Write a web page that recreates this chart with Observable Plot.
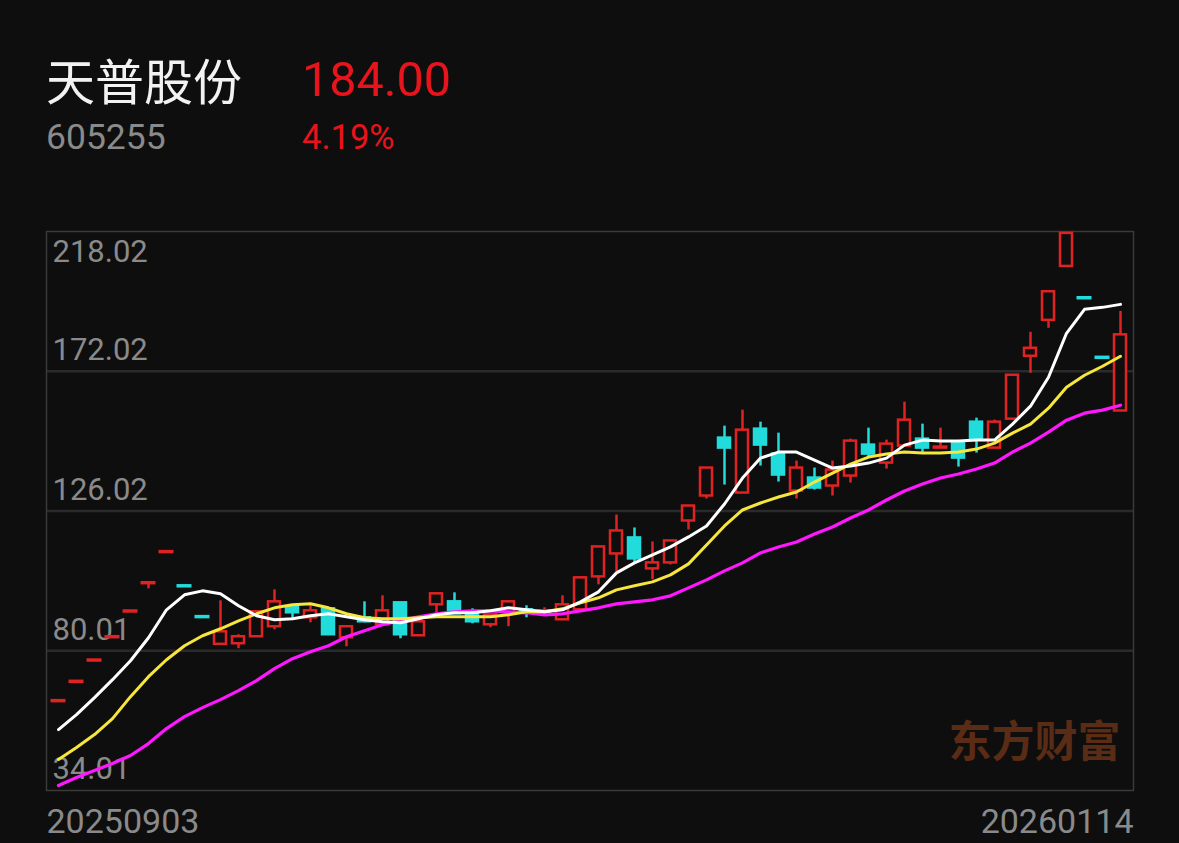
<!DOCTYPE html>
<html><head><meta charset="utf-8">
<script src="https://cdn.jsdelivr.net/npm/d3@7"></script>
<script src="https://cdn.jsdelivr.net/npm/@observablehq/plot@0.6"></script>
<style>
html,body{margin:0;padding:0;background:#0e0e0e;width:1179px;height:843px;overflow:hidden}
#root{position:relative;width:1179px;height:843px}
.t{position:absolute;white-space:nowrap;line-height:1;font-family:Roboto,"Noto Sans CJK SC",sans-serif}
#chart{position:absolute;left:0;top:0}
</style></head><body><div id="root">
<div class="t" id="name" style="left:46px;top:54px;font-size:49px;color:#f2f2f2;font-family:'Noto Sans CJK SC',sans-serif">天普股份</div>
<div class="t" id="price" style="left:302px;top:56px;font-size:48.5px;color:#e8141c">184.00</div>
<div class="t" id="code" style="left:46px;top:120px;font-size:35.5px;color:#8a8a8a">605255</div>
<div class="t" id="pct" style="left:302px;top:120px;font-size:34.5px;color:#e8141c">4.19%</div>
<div id="chart"></div>
</div>
<script>
// ---- data (daily candles, 20250903 .. 20260114) ----
const stockName = "天普股份";
const stockCode = "605255";
const lastPrice = "184.00";
const lastChange = "4.19%";
const startDate = "20250903";
const endDate = "20260114";
const open  = [63.59,69.95,76.95,84.64,93.10,102.41,112.65,101.39,91.25,82.13,82.32,84.62,87.91,94.48,90.86,93.82,84.29,90.86,88.56,95.79,84.95,95.13,96.12,92.51,88.56,92.51,93.49,92.18,90.21,93.49,104.33,111.89,117.15,106.96,108.93,122.73,130.95,150.01,131.93,152.96,144.75,132.59,136.86,134.23,137.52,147.71,141.79,147.38,149.68,147.05,148.36,155.26,146.72,156.25,176.95,188.78,206.52,196.22,176.60,158.94];
const close = [63.59,69.95,76.95,84.64,93.10,102.41,112.65,101.39,91.25,86.26,84.62,92.83,96.12,92.51,93.16,85.28,87.91,89.55,93.16,85.28,89.55,98.75,92.18,89.55,91.85,96.12,92.83,93.16,95.13,104.01,114.19,119.45,110.25,108.93,116.16,127.66,140.15,146.72,152.63,147.71,137.85,140.15,133.58,139.49,149.02,144.75,148.03,155.92,146.72,147.05,143.43,149.68,155.26,170.71,179.58,198.20,217.40,196.22,176.60,184.00];
const high  = [63.59,69.95,76.95,84.64,93.10,102.41,112.65,101.39,91.25,96.45,85.28,92.83,100.06,94.48,94.81,93.82,87.91,96.12,98.09,95.79,89.55,98.75,99.08,93.82,91.85,96.45,94.81,94.15,98.09,104.34,114.19,124.71,120.43,115.83,116.16,127.66,140.15,153.95,159.21,155.26,151.65,142.45,140.15,142.45,149.68,153.29,149.35,161.83,154.61,153.29,148.36,156.58,155.92,170.71,184.83,198.20,217.40,196.22,176.60,191.73];
const low   = [63.59,69.95,76.95,84.64,93.10,100.39,112.65,101.39,91.25,82.13,80.68,84.62,86.92,90.21,89.22,85.28,81.33,89.22,88.56,83.96,84.95,92.51,92.18,88.89,87.58,87.91,90.86,91.85,90.21,93.49,101.71,105.98,108.93,103.35,108.28,119.78,129.96,134.56,131.93,140.81,135.55,129.96,132.92,130.95,135.22,143.76,139.82,147.38,145.08,147.05,140.48,145.08,146.72,156.25,171.36,186.15,206.52,196.22,176.60,158.94];
const ma5   = [54.06,58.99,64.58,70.49,76.73,84.29,93.49,98.42,99.73,98.75,94.81,91.52,90.21,90.53,91.52,92.18,91.19,90.21,89.55,89.22,90.53,91.85,92.51,92.51,93.16,94.15,93.49,92.83,93.49,96.12,99.41,105.65,108.93,111.56,114.19,117.48,121.09,128.32,136.86,143.43,145.41,145.41,142.78,140.15,140.81,141.79,143.43,147.71,149.35,149.02,149.02,149.35,149.35,154.61,160.52,170.05,184.51,192.39,193.05,194.03];
const ma10  = [44.21,48.15,52.42,57.68,64.91,71.48,77.06,81.66,84.95,87.25,89.88,92.18,94.15,95.13,95.46,94.15,92.18,90.86,90.53,90.53,90.86,91.19,91.19,91.19,91.19,91.85,92.83,92.83,93.82,95.79,97.44,100.06,101.38,102.69,104.99,108.61,114.85,121.09,126.35,128.65,130.62,132.26,135.55,138.51,141.46,143.76,144.75,145.41,145.08,145.08,145.41,146.39,148.36,151.65,154.61,159.86,166.76,170.71,173.66,176.95];
const ma20  = [35.66,38.29,40.59,42.89,45.52,49.46,54.39,58.33,61.29,63.92,66.88,70.16,74.11,77.39,79.69,81.66,84.62,86.59,88.56,89.88,91.19,92.18,92.83,93.16,93.16,92.83,92.51,91.85,92.18,93.16,94.15,95.46,96.12,96.78,98.09,100.72,103.35,106.31,108.93,112.22,114.19,115.83,118.46,120.76,123.72,126.35,129.63,132.59,134.89,136.86,138.18,139.82,141.79,145.41,148.36,151.98,155.92,158.22,159.21,160.85];
const yTickValues = [218.02, 172.02, 126.02, 80.01, 34.01];
const yTickLabels = ["218.02", "172.02", "126.02", "80.01", "34.01"];
const watermark = "东方财富";

// ---- styles ----
const bg = "#0e0e0e", upColor = "#e12222", downColor = "#22dcdc", grey = "#8a8a8a";
const font = "Roboto, 'Noto Sans', sans-serif";

const idx = d3.range(open.length);
const data = idx.map(i => {
  let dir;
  if (close[i] > open[i]) dir = 1;
  else if (close[i] < open[i]) dir = -1;
  else dir = (i === 0 || close[i] >= close[i - 1]) ? 1 : -1;
  return {i, o: open[i], c: close[i], h: high[i], l: low[i], dir};
});
const colorOf = d => d.dir > 0 ? upColor : downColor;
const bodies = data.filter(d => d.o !== d.c);
const dojis = data.filter(d => d.o === d.c);
const wicks = data.filter(d => d.h !== d.l);

const chart = Plot.plot({
  width: 1179, height: 843,
  marginLeft: 46, marginRight: 46, marginTop: 231, marginBottom: 53,
  style: {background: "transparent", overflow: "visible", fontFamily: font},
  x: {type: "band", domain: idx, paddingInner: 0.33, paddingOuter: 0.115, axis: null},
  y: {domain: [34.01, 218.02], axis: null},
  marks: [
    Plot.ruleY(yTickValues.slice(1, 4), {stroke: "#2a2a2a", strokeWidth: 2.5}),
    Plot.frame({stroke: "#3a3a3a", strokeWidth: 1.5}),
    Plot.text([watermark], {frameAnchor: "bottom-right", textAnchor: "end", dx: -13, dy: -34, fontSize: 43, fontWeight: "bold", fill: "#5a2b15", fontFamily: "'Noto Sans CJK SC', sans-serif"}),
    Plot.text(yTickValues.slice(0, 1), {y: d => d, text: (d, i) => yTickLabels[i], frameAnchor: "left", textAnchor: "start", dx: 6, dy: 21, fontSize: 31, fill: grey}),
    Plot.text(yTickValues.slice(1), {y: d => d, text: (d, i) => yTickLabels[i + 1], frameAnchor: "left", textAnchor: "start", dx: 6, dy: -21, fontSize: 31, fill: grey}),
    Plot.ruleX(wicks, {x: "i", y1: "l", y2: "h", stroke: colorOf, strokeWidth: 2.5}),
    Plot.barY(bodies, {x: "i", y1: "o", y2: "c", fill: d => d.dir > 0 ? bg : downColor, stroke: colorOf, strokeWidth: 2.5}),
    Plot.tickY(dojis, {x: "i", y: "c", stroke: colorOf, strokeWidth: 3.5, insetLeft: -1.5, insetRight: -1.5}),
    Plot.line(idx, {x: i => i, y: i => ma20[i], stroke: "#ff18ff", strokeWidth: 3.2, strokeLinejoin: "round"}),
    Plot.line(idx, {x: i => i, y: i => ma10[i], stroke: "#f7e63c", strokeWidth: 3, strokeLinejoin: "round"}),
    Plot.line(idx, {x: i => i, y: i => ma5[i], stroke: "#ffffff", strokeWidth: 3, strokeLinejoin: "round"}),
    Plot.text([startDate], {frameAnchor: "bottom-left", textAnchor: "start", lineAnchor: "top", dy: 18, fontSize: 34, fill: grey}),
    Plot.text([endDate], {frameAnchor: "bottom-right", textAnchor: "end", lineAnchor: "top", dy: 18, fontSize: 34, fill: grey})
  ]
});
document.getElementById("chart").appendChild(chart);
</script>
</body></html>
